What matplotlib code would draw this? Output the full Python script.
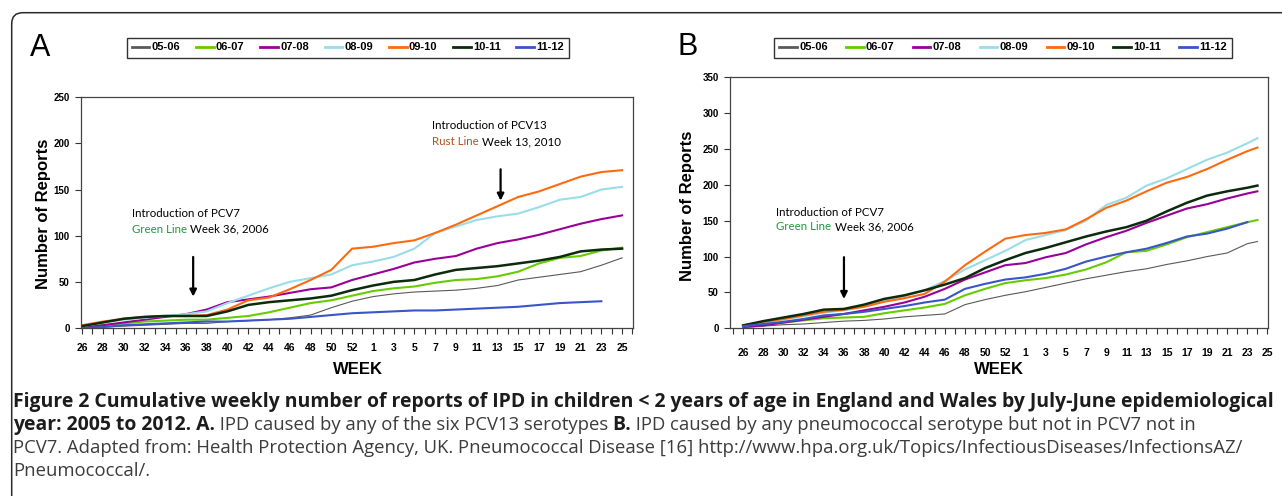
import matplotlib
matplotlib.use('Agg')
import matplotlib.pyplot as plt
import matplotlib.transforms as mtransforms
from matplotlib import font_manager
from matplotlib.patches import FancyBboxPatch
import numpy as np

# seasons shown in both panels
seasons = ['05-06', '06-07', '07-08', '08-09', '09-10', '10-11', '11-12']
season_colors = ['#5a5a5a', '#66cc00', '#990099', '#99dde8', '#ff6a10', '#0c2a0c', '#3a55c8']
season_widths = [0.8, 1.5, 1.5, 1.5, 1.5, 1.8, 1.5]

# week axis: position 0 = week 26, labels every 2 weeks (53 week year)
week_labels = [str(w) for w in range(26, 53, 2)] + [str(w) for w in range(1, 26, 2)]

# panel A, IPD caused by the six extra PCV13 serotypes (values every 2 weeks)
weeks_a = list(range(0, 53, 2))
a_0506 = [0, 1, 2, 3, 4, 5, 5, 7, 8, 9, 11, 14, 22, 29, 34, 37, 39, 40, 41, 43, 46, 52, 55, 58, 61, 68, 76]
a_0607 = [0, 3, 5, 7, 8, 9, 9, 11, 13, 17, 22, 27, 30, 35, 40, 43, 45, 49, 52, 53, 56, 61, 70, 76, 78, 84, 87]
a_0708 = [0, 3, 6, 9, 12, 15, 20, 28, 31, 34, 38, 42, 44, 52, 58, 64, 71, 75, 78, 86, 92, 96, 101, 107, 113, 118, 122]
a_0809 = [2, 6, 9, 11, 13, 15, 18, 27, 35, 43, 50, 54, 58, 68, 72, 77, 86, 103, 110, 117, 121, 124, 131, 139, 142, 150, 153]
a_0910 = [3, 7, 10, 12, 13, 13, 14, 20, 30, 33, 42, 52, 63, 86, 88, 92, 95, 103, 112, 122, 132, 142, 148, 156, 164, 169, 171]
a_1011 = [2, 6, 10, 12, 13, 13, 13, 18, 25, 28, 30, 32, 35, 41, 46, 50, 52, 58, 63, 65, 67, 70, 73, 77, 83, 85, 86]
a_1112 = [0, 1, 3, 4, 5, 6, 7, 7, 8, 9, 10, 12, 14, 16, 17, 18, 19, 19, 20, 21, 22, 23, 25, 27, 28, 29, np.nan]

# panel B, IPD caused by any serotype not in PCV7
weeks_b = list(range(0, 51, 2)) + [51]
b_0506 = [1, 3, 5, 6, 8, 10, 11, 13, 16, 18, 20, 33, 40, 46, 51, 57, 63, 69, 74, 79, 83, 89, 94, 100, 105, 118, 121]
b_0607 = [2, 5, 8, 11, 14, 15, 16, 21, 25, 29, 34, 46, 55, 63, 67, 70, 75, 82, 92, 106, 108, 117, 127, 134, 141, 148, 151]
b_0708 = [2, 4, 8, 12, 16, 20, 25, 30, 36, 44, 55, 68, 78, 88, 91, 99, 105, 117, 127, 136, 147, 157, 167, 173, 181, 188, 191]
b_0809 = [3, 8, 12, 17, 22, 25, 30, 38, 45, 53, 66, 82, 95, 108, 123, 130, 137, 150, 172, 182, 199, 209, 222, 235, 245, 258, 265]
b_0910 = [4, 9, 13, 18, 23, 26, 30, 37, 42, 48, 65, 88, 107, 125, 130, 133, 138, 152, 168, 178, 191, 203, 211, 222, 235, 247, 252]
b_1011 = [4, 10, 15, 20, 26, 27, 33, 41, 46, 53, 61, 70, 84, 95, 105, 112, 120, 128, 135, 141, 150, 163, 175, 185, 191, 196, 199]
b_1112 = [3, 6, 9, 13, 18, 20, 23, 27, 31, 36, 40, 55, 62, 68, 71, 76, 83, 93, 100, 106, 111, 119, 128, 132, 139, 148, np.nan]

series_a = [a_0506, a_0607, a_0708, a_0809, a_0910, a_1011, a_1112]
series_b = [b_0506, b_0607, b_0708, b_0809, b_0910, b_1011, b_1112]

caption_1 = [('Figure 2 Cumulative weekly number of reports of IPD in children < 2 years of age '
              'in England and Wales by July-June epidemiological', 'bold')]
caption_2 = [('year: 2005 to 2012. A.', 'bold'),
             (' IPD caused by any of the six PCV13 serotypes', 'normal'),
             (' B.', 'bold'),
             (' IPD caused by any pneumococcal serotype but not in PCV7 not in', 'normal')]
caption_3 = [('PCV7. Adapted from: Health Protection Agency, UK. Pneumococcal Disease [16] '
              'http://www.hpa.org.uk/Topics/InfectiousDiseases/InfectionsAZ/', 'normal')]
caption_4 = [('Pneumococcal/.', 'normal')]

names = {f.name for f in font_manager.fontManager.ttflist}
narrow = 'Liberation Sans Narrow' if 'Liberation Sans Narrow' in names else 'Liberation Sans'
note_font = 'Lato' if 'Lato' in names else 'DejaVu Sans'
cap_font = 'Open Sans' if 'Open Sans' in names else 'DejaVu Sans'

W, H = 1282, 496
fig = plt.figure(figsize=(W / 100, H / 100), dpi=100)
rend = fig.canvas.get_renderer()


def px_axes(l, t, r, b):
    return fig.add_axes([l / W, 1 - b / H, (r - l) / W, (b - t) / H])


def two_colour(ax, x, y, parts, size):
    t = ax.text(x, y, parts[0][0], color=parts[0][1], fontsize=size,
                family=note_font, va='bottom', ha='left')
    for s, c in parts[1:]:
        t = ax.annotate(s, xycoords=t, xy=(1, 0), va='bottom', ha='left',
                        color=c, fontsize=size, family=note_font)


def setup(ax, weeks, series, ymax, xlim, labpad):
    for vals, col, lw in zip(series, season_colors, season_widths):
        ax.plot(weeks, vals, color=col, lw=lw, solid_joinstyle='miter')
    ax.set_xlim(*xlim)
    ax.set_ylim(0, ymax)
    ax.set_yticks(np.arange(0, ymax + 1, 50))
    ax.set_yticklabels([str(v) for v in range(0, ymax + 1, 50)],
                       fontweight='bold', fontsize=7, family='Liberation Sans')
    ax.set_xticks(range(0, 53, 2))
    ax.set_xticklabels(week_labels, fontweight='bold', fontsize=7.5, family=narrow)
    ax.set_xticks(range(int(np.ceil(xlim[0])), int(xlim[1]) + 1), minor=True)
    ax.tick_params(axis='both', which='both', direction='out', length=4, width=0.8,
                   color='#333333')
    ax.tick_params(axis='x', which='major', pad=labpad)
    ax.tick_params(axis='y', pad=4)
    for s in ax.spines.values():
        s.set_color('#444444')
        s.set_linewidth(0.9)


axA = px_axes(81, 97.3, 633, 328)
setup(axA, weeks_a, series_a, 250, (-0.1, 53.05), 7)
axB = px_axes(730, 77.3, 1268, 328.3)
setup(axB, weeks_b, series_b, 350, (-1.3, 52.05), 10)

# vaccine introduction notes
axA.text(4.8, 124, 'Introduction of PCV7', fontsize=8.3, family=note_font, va='center')
two_colour(axA, 4.8, 101, [('Green Line', '#1f9a3c'), (' Week 36, 2006', 'black')], 8.3)
axA.annotate('', xy=(10.7, 31), xytext=(10.7, 80),
             arrowprops=dict(arrowstyle='-|>', color='black', lw=1.6, mutation_scale=10))
axA.text(33.7, 219, 'Introduction of PCV13', fontsize=8.3, family=note_font, va='center')
two_colour(axA, 33.7, 196, [('Rust Line', '#b8501e'), (' Week 13, 2010', 'black')], 8.3)
axA.annotate('', xy=(40.3, 135), xytext=(40.3, 175),
             arrowprops=dict(arrowstyle='-|>', color='black', lw=1.6, mutation_scale=10))

axB.text(3.3, 161, 'Introduction of PCV7', fontsize=8.3, family=note_font, va='center')
two_colour(axB, 3.3, 134, [('Green Line', '#1f9a3c'), (' Week 36, 2006', 'black')], 8.3)
axB.annotate('', xy=(10, 37), xytext=(10, 103),
             arrowprops=dict(arrowstyle='-|>', color='black', lw=1.6, mutation_scale=10))

# axis titles
for cx, cy in [(43.5, 214), (687.5, 206)]:
    fig.text(cx / W, 1 - cy / H, 'Number of Reports', rotation=90, ha='center', va='center',
             fontsize=12, fontweight='bold', family='Liberation Sans')
for cx in [358, 999]:
    fig.text(cx / W, 1 - 370 / H, 'WEEK', ha='center', va='center', fontsize=12,
             fontweight='bold', family=narrow)

# panel letters
fig.text(30 / W, 1 - 56 / H, 'A', fontsize=22, family='Liberation Sans', va='baseline')
fig.text(678 / W, 1 - 55 / H, 'B', fontsize=22, family='Liberation Sans', va='baseline')

# legends
for ax, (l, r) in [(axA, (126.7, 569)), (axB, (774, 1232))]:
    handles = ax.get_lines()[:len(seasons)]
    leg = fig.legend(handles, seasons, loc='lower left',
                     bbox_to_anchor=(l / W, 1 - 57.5 / H, (r - l) / W, 23 / H),
                     mode='expand', ncol=7, fancybox=False, edgecolor='black',
                     borderaxespad=0, handlelength=1.6, handletextpad=0.2, borderpad=0.45,
                     prop=dict(family=narrow, weight='bold', size=8))
    leg.get_frame().set_linewidth(1.0)
    for h in leg.legend_handles:
        h.set_linewidth(2.0)

# rounded frame around the figure panel
frame = FancyBboxPatch((11.7, -30), 1400, H - 12.7 + 30,
                       boxstyle='round,pad=0,rounding_size=11',
                       transform=mtransforms.IdentityTransform(),
                       fill=False, lw=1.1, ec='#2a2a2a')
fig.add_artist(frame)


# caption: bold and regular sizes fitted to the widths of lines 1 and 3
def fit_size(text, weight, target):
    t = fig.text(0, 0, text, fontsize=12, fontweight=weight, family=cap_font)
    w = t.get_window_extent(rend).width
    t.remove()
    return 12 * target / w


sizes = {'bold': fit_size(caption_1[0][0], 'bold', 1255),
         'normal': fit_size(caption_3[0][0], 'normal', 1222)}
colours = {'bold': '#1c1c1c', 'normal': '#3c3c3c'}


def caption_line(baseline, parts):
    x = 13
    for text, weight in parts:
        t = fig.text(x / W, 1 - baseline / H, text, fontsize=sizes[weight],
                     fontweight=weight, family=cap_font, color=colours[weight],
                     va='baseline', ha='left')
        x = t.get_window_extent(rend).x1


caption_line(407, caption_1)
caption_line(430, caption_2)
caption_line(453, caption_3)
caption_line(476, caption_4)

fig.savefig('out.png', dpi=100)
